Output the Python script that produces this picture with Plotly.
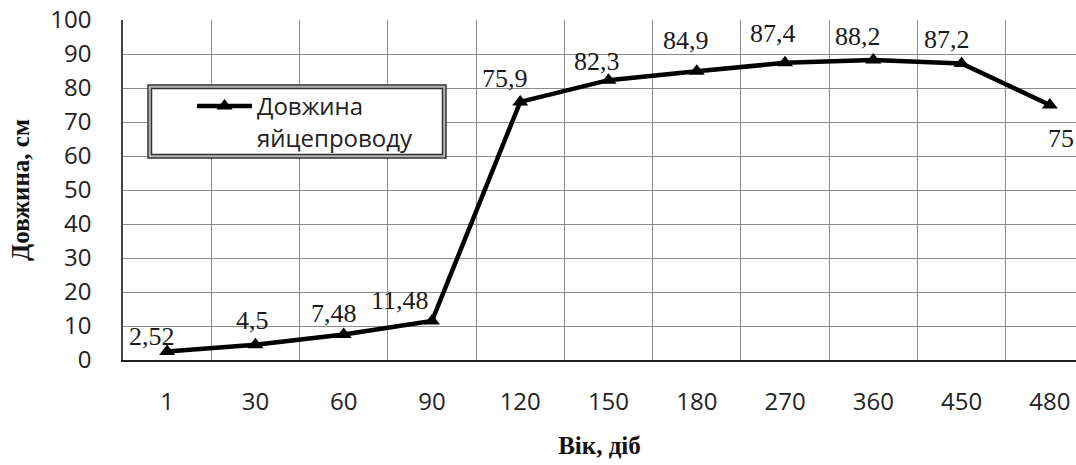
import plotly.graph_objects as go

categories = ["1", "30", "60", "90", "120", "150", "180", "270", "360", "450", "480"]
lengths = [2.52, 4.5, 7.48, 11.48, 75.9, 82.3, 84.9, 87.4, 88.2, 87.2, 75]
series_name = "Довжина<br>яйцепроводу"
x_title = "Вік, діб"
y_title = "Довжина, см"
y_ticks = list(range(0, 101, 10))

# label offsets (px) relative to each point
label_dx = [-15, -3, -10, -32, -15, -11, -11, -12, -15, -15, 11]
label_dy = [15, 24, 21, 20, 23, 19, 31, 29, 24, 24, -33]

W, H = 1076, 465
ML, MT, MB = 123, 20, 105
plot_w = W - ML
plot_h = H - MT - MB
cat_w = 88.27
x_max = -0.5 + plot_w / cat_w

def px2paper(px, py):
    return (px - ML) / plot_w, (H - MB - py) / plot_h

fig = go.Figure()
fig.add_trace(go.Scatter(
    x=categories, y=lengths, name=series_name,
    mode="lines+markers",
    line=dict(color="black", width=4.5),
    marker=dict(symbol="triangle-up", size=14, color="black"),
    cliponaxis=False,
))

for i, (v, dx, dy) in enumerate(zip(lengths, label_dx, label_dy)):
    fig.add_annotation(
        x=i, y=v, xref="x", yref="y", text=f"{v:g}".replace(".", ","),
        showarrow=False, xshift=dx, yshift=dy,
        font=dict(family="Liberation Serif, Times New Roman, serif", size=26, color="#1a1a1a"),
    )

# double border of legend box
ox0, oy1 = px2paper(148, 85)
ox1, oy0 = px2paper(446, 158)
ix0, iy1 = px2paper(151.5, 88.5)
ix1, iy0 = px2paper(442.5, 154.5)
fig.add_shape(type="rect", xref="paper", yref="paper", x0=ox0, x1=ox1, y0=oy0, y1=oy1,
              line=dict(color="#333333", width=1.5), fillcolor="#b8b8b8", layer="above")
fig.add_shape(type="rect", xref="paper", yref="paper", x0=ix0, x1=ix1, y0=iy0, y1=iy1,
              line=dict(color="#333333", width=1.5), fillcolor="white", layer="above")

lx, ly = px2paper(192, 84)

fig.update_layout(
    width=W, height=H,
    margin=dict(l=ML, r=0, t=MT, b=MB, autoexpand=False),
    paper_bgcolor="white", plot_bgcolor="white",
    showlegend=True,
    legend=dict(x=lx, y=ly, xanchor="left", yanchor="top", bgcolor="rgba(0,0,0,0)",
                borderwidth=0, itemwidth=55, valign="top",
                font=dict(family="Open Sans, Calibri, sans-serif", size=24, color="#222")),
    xaxis=dict(type="category", range=[-0.5, x_max], tickson="boundaries",
               showgrid=True, gridcolor="#8c8c8c", gridwidth=1,
               showline=True, linecolor="#222", linewidth=1.5,
               ticks="", ticklabelstandoff=19,
               tickfont=dict(family="Open Sans, Calibri, sans-serif", size=24, color="#222"),
               title=dict(text=x_title, standoff=21,
                          font=dict(family="Liberation Serif, Times New Roman, serif", size=25,
                                    color="#111", weight="bold"))),
    yaxis=dict(range=[0, 100], tickvals=y_ticks, showgrid=True, gridcolor="#8c8c8c", gridwidth=1,
               showline=True, linecolor="#444", linewidth=1.5, zeroline=False,
               ticks="", ticklabelstandoff=25,
               tickfont=dict(family="Open Sans, Calibri, sans-serif", size=24, color="#222"),
               title=dict(text=y_title, standoff=14,
                          font=dict(family="Liberation Serif, Times New Roman, serif", size=25,
                                    color="#111", weight="bold"))),
)

fig.write_html("out.html", config={"displayModeBar": False},
               post_script="document.body.style.margin='0';document.body.style.overflow='hidden';")
